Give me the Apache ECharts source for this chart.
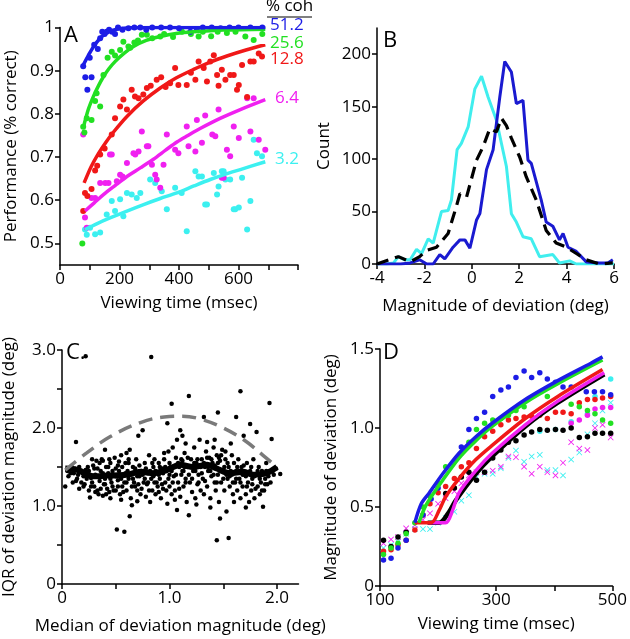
<!DOCTYPE html>
<html><head><meta charset="utf-8">
<script src="https://cdn.jsdelivr.net/npm/echarts@6/dist/echarts.min.js"></script>
<style>html,body{margin:0;padding:0;background:#fff}#c{width:630px;height:639px}</style>
</head><body><div id="c"></div>
<script>
// ---------- Panel A data (viewing time msec, performance) ----------
const cohLabels = ['51.2','25.6','12.8','6.4','3.2'];
const aBlueDots = [[78,0.91],[85,0.885],[92,0.856],[100,0.93],[106,0.885],[115,0.96],[127,0.95],[135,0.975],[142,0.99],[150,0.985],[157,0.99],[165,0.995],[175,0.99],[185,0.985],[195,1.0],[210,0.995],[230,0.998],[250,1.0],[270,1.0],[290,0.995],[310,1.0],[340,1.0],[370,1.0],[400,0.998],[438,0.99],[460,0.995],[480,1.0],[510,1.0],[540,0.998],[570,1.0],[600,1.0],[640,1.0],[680,1.0]];
const aGreenDots = [[75,0.5],[78,0.77],[82,0.757],[90,0.79],[106,0.786],[118,0.83],[123,0.848],[135,0.817],[146,0.89],[160,0.93],[174,0.944],[185,0.935],[202,0.948],[213,0.967],[230,0.956],[236,0.953],[250,0.965],[262,0.97],[275,0.983],[292,0.983],[310,0.975],[337,0.979],[350,0.985],[380,0.978],[410,0.99],[440,0.985],[466,0.979],[480,0.99],[508,0.98],[530,0.99],[561,0.987],[590,0.99],[623,0.979],[651,0.971],[680,0.985]];
const aRedDots = [[78,0.575],[84,0.617],[92,0.61],[106,0.626],[118,0.669],[125,0.68],[135,0.706],[150,0.72],[174,0.752],[185,0.79],[202,0.817],[213,0.833],[225,0.81],[241,0.856],[252,0.84],[264,0.836],[280,0.845],[292,0.86],[305,0.865],[325,0.879],[340,0.885],[355,0.862],[370,0.871],[387,0.906],[398,0.867],[426,0.867],[440,0.895],[455,0.879],[466,0.921],[483,0.906],[494,0.875],[505,0.921],[517,0.936],[528,0.89],[533,0.865],[544,0.902],[556,0.879],[572,0.89],[584,0.89],[595,0.856],[601,0.867],[612,0.913],[629,0.839],[640,0.921],[651,0.921],[668,0.94],[679,0.933]];
const aMagentaDots = [[78,0.752],[84,0.56],[90,0.536],[106,0.605],[118,0.605],[135,0.64],[152,0.64],[163,0.64],[168,0.706],[174,0.706],[191,0.644],[202,0.659],[210,0.655],[225,0.686],[247,0.709],[253,0.706],[264,0.713],[275,0.759],[292,0.725],[297,0.725],[309,0.682],[320,0.659],[325,0.648],[337,0.629],[348,0.682],[359,0.752],[387,0.717],[398,0.709],[426,0.771],[432,0.725],[455,0.713],[460,0.786],[477,0.733],[488,0.796],[512,0.752],[522,0.748],[533,0.81],[544,0.652],[550,0.652],[561,0.717],[572,0.702],[584,0.771],[601,0.744],[629,0.836],[640,0.759],[651,0.836],[668,0.74],[690,0.717]];
const aCyanDots = [[84,0.532],[90,0.52],[101,0.536],[118,0.521],[135,0.525],[157,0.567],[174,0.598],[185,0.575],[202,0.602],[213,0.563],[225,0.617],[241,0.613],[258,0.605],[270,0.617],[303,0.648],[320,0.64],[342,0.621],[359,0.579],[387,0.629],[409,0.617],[426,0.528],[455,0.667],[466,0.655],[477,0.655],[488,0.59],[494,0.59],[517,0.663],[528,0.613],[533,0.632],[544,0.667],[550,0.667],[556,0.648],[572,0.648],[584,0.579],[589,0.579],[601,0.583],[612,0.652],[629,0.532],[640,0.598],[651,0.74],[662,0.709],[679,0.702]];
const aBlueFit = [[78,0.913],[95,0.935],[112,0.955],[135,0.975],[157,0.988],[190,0.996],[225,0.999],[300,1.0],[450,1.0],[690,1.0]];
const aGreenFit = [[78,0.767],[95,0.81],[112,0.84],[130,0.866],[146,0.886],[165,0.905],[185,0.921],[215,0.94],[247,0.956],[290,0.97],[337,0.979],[390,0.986],[449,0.99],[550,0.994],[690,0.996]];
const aRedFit = [[81,0.64],[105,0.678],[129,0.708],[155,0.735],[180,0.758],[225,0.794],[280,0.83],[337,0.86],[390,0.883],[449,0.903],[505,0.92],[561,0.934],[625,0.948],[690,0.96]];
const aMagentaFit = [[84,0.575],[115,0.594],[146,0.613],[185,0.634],[225,0.655],[270,0.675],[314,0.695],[355,0.716],[393,0.735],[430,0.75],[471,0.766],[540,0.79],[606,0.81],[690,0.833]];
const aCyanFit = [[84,0.532],[125,0.546],[168,0.559],[225,0.575],[281,0.59],[337,0.604],[393,0.617],[450,0.633],[505,0.648],[555,0.66],[606,0.671],[690,0.689]];
const aYTicks = [0.5,0.6,0.7,0.8,0.9,1];
const aXTicks = [0,100,200,300,400,500,600,700,800];
const aXLabels = [0,200,400,600];

// ---------- Panel B data (deviation deg, count) ----------
const bCyan = [[-4,0],[-3.6,0],[-3.3,1],[-3.1,7],[-2.82,4],[-2.6,4],[-2.33,14],[-2.12,10],[-1.84,24],[-1.63,20],[-1.28,50],[-1.0,51],[-0.86,61],[-0.62,109],[-0.44,115],[-0.15,131],[0.13,167],[0.41,179],[0.69,159],[1.04,137],[1.46,93],[1.67,48],[1.88,40],[2.16,26],[2.51,24],[2.86,7],[3.42,9],[3.7,1],[4.13,3],[4.41,0],[6,0]];
const bBlue = [[-4,0],[-3,0],[-2.6,1],[-2.2,4],[-1.9,0],[-1.63,0],[-1.35,9],[-1.14,5],[-0.79,16],[-0.5,23],[-0.29,23],[-0.08,15],[0.2,42],[0.34,48],[0.62,90],[0.9,109],[1.18,159],[1.39,193],[1.67,183],[1.88,153],[2.16,156],[2.37,99],[2.51,96],[2.93,61],[3.14,40],[3.42,36],[3.7,23],[3.85,29],[4.06,16],[4.41,12],[4.83,2],[5.39,1],[5.74,1],[5.95,4]];
const bBlack = [[-4,0],[-3.1,7],[-2.6,2],[-2.2,7],[-1.91,13],[-1.49,16],[-1.0,29],[-0.65,55],[-0.5,67],[-0.22,64],[0.2,99],[0.48,112],[0.76,129],[1.04,126],[1.25,139],[1.46,132],[1.67,120],[2.02,102],[2.3,83],[2.72,61],[3.14,32],[3.56,20],[3.99,16],[4.41,10],[4.83,4],[5.39,0],[5.95,1]];
const bYTicks = [0,50,100,150,200];

// ---------- Panel C data (median, IQR) ----------
const cDots = [[0.05,1.45],[0.08,1.42],[0.1,1.3],[0.12,1.48],[0.14,1.35],[0.15,1.4],[0.17,1.45],[0.18,1.3],[0.2,1.38],[0.21,1.28],[0.22,1.46],[0.24,1.5],[0.25,1.2],[0.26,1.11],[0.27,1.36],[0.28,1.3],[0.29,1.52],[0.3,1.25],[0.31,1.4],[0.32,1.58],[0.33,1.2],[0.34,1.15],[0.35,1.32],[0.36,1.45],[0.37,1.6],[0.38,1.13],[0.39,1.28],[0.4,1.35],[0.41,1.5],[0.42,1.22],[0.43,1.42],[0.44,1.18],[0.45,1.55],[0.46,1.3],[0.47,1.25],[0.48,1.4],[0.49,1.62],[0.5,1.2],[0.5,1.48],[0.51,0.7],[0.52,1.33],[0.53,1.57],[0.54,1.15],[0.55,1.65],[0.56,1.25],[0.57,1.4],[0.58,0.67],[0.58,1.3],[0.59,1.55],[0.6,1.2],[0.61,1.45],[0.62,1.35],[0.63,0.87],[0.63,1.72],[0.64,1.1],[0.65,1.01],[0.66,1.5],[0.67,1.3],[0.68,1.25],[0.69,1.6],[0.7,1.2],[0.71,1.9],[0.72,1.38],[0.73,1.15],[0.74,1.45],[0.75,1.97],[0.76,1.3],[0.77,1.55],[0.78,1.12],[0.79,1.28],[0.8,1.42],[0.81,1.65],[0.82,1.05],[0.83,2.91],[0.83,1.35],[0.84,1.2],[0.85,1.5],[0.86,1.3],[0.87,1.15],[0.88,1.42],[0.89,1.25],[0.9,1.55],[0.91,1.35],[0.92,1.1],[0.93,1.48],[0.94,1.22],[0.95,1.6],[0.96,1.3],[0.97,1.45],[0.98,1.03],[0.98,2.06],[0.99,1.7],[1.0,1.25],[1.01,1.5],[1.02,2.31],[1.02,1.15],[1.03,1.75],[1.04,1.38],[1.05,1.2],[1.06,1.62],[1.07,1.85],[1.07,0.95],[1.08,1.3],[1.09,1.5],[1.1,1.97],[1.1,1.12],[1.11,1.4],[1.12,1.58],[1.13,1.25],[1.14,1.68],[1.15,1.35],[1.16,1.05],[1.17,1.5],[1.18,2.41],[1.18,0.88],[1.19,1.3],[1.2,1.6],[1.21,1.18],[1.22,1.45],[1.23,1.75],[1.24,1.1],[1.25,1.55],[1.26,1.28],[1.27,1.4],[1.28,1.85],[1.29,1.2],[1.3,1.6],[1.31,1.35],[1.32,2.14],[1.32,1.15],[1.33,1.5],[1.34,1.7],[1.35,1.25],[1.36,1.45],[1.37,1.62],[1.38,1.1],[1.39,1.38],[1.4,1.55],[1.41,1.75],[1.42,1.3],[1.43,1.2],[1.44,1.65],[1.44,0.56],[1.45,2.2],[1.45,1.4],[1.46,1.05],[1.47,0.84],[1.47,1.58],[1.48,1.3],[1.49,1.72],[1.5,1.45],[1.51,1.2],[1.52,1.6],[1.53,0.93],[1.54,1.35],[1.55,0.59],[1.55,1.5],[1.56,1.25],[1.57,1.8],[1.58,1.4],[1.59,1.15],[1.6,1.55],[1.61,1.3],[1.62,2.14],[1.62,1.45],[1.63,1.2],[1.64,1.6],[1.65,1.35],[1.66,2.47],[1.66,1.1],[1.67,1.5],[1.68,1.25],[1.69,1.9],[1.7,1.4],[1.71,0.98],[1.71,1.15],[1.72,1.55],[1.73,1.3],[1.74,1.05],[1.75,2.05],[1.75,1.45],[1.76,1.2],[1.77,1.35],[1.78,1.6],[1.79,1.1],[1.8,1.4],[1.81,1.95],[1.82,1.25],[1.83,1.5],[1.84,1.15],[1.85,1.3],[1.86,1.45],[1.87,0.99],[1.88,1.2],[1.89,1.35],[1.9,1.55],[1.91,1.28],[1.93,2.32],[1.95,1.86],[1.96,1.45],[2.03,1.41],[0.03,1.25],[0.13,1.82],[0.22,2.92],[0.4,1.72],[0.6,1.68],[0.95,1.68],[1.15,1.8],[1.35,1.82],[1.42,1.85],[1.12,1.9],[0.38,1.58],[0.28,1.6],[0.55,1.08],[0.7,1.06],[1.25,1.02],[1.38,0.98],[1.6,1.05],[0.45,1.1],[0.9,1.18],[1.05,1.08],[0.16,1.22],[0.33,1.48],[0.52,1.52],[0.67,1.42],[0.86,1.6],[1.0,1.4],[1.13,1.45],[1.28,1.52],[1.46,1.62],[1.52,1.7],[1.58,1.65],[1.68,1.42],[1.85,1.4],[0.44,1.6],[0.62,1.55]];
const cDotsBand = [[0.06,1.38],[0.09,1.5],[0.11,1.42],[0.13,1.32],[0.16,1.5],[0.19,1.42],[0.2,1.25],[0.23,1.35],[0.25,1.45],[0.27,1.25],[0.3,1.48],[0.31,1.18],[0.33,1.38],[0.35,1.55],[0.36,1.22],[0.38,1.42],[0.4,1.28],[0.41,1.15],[0.43,1.5],[0.45,1.35],[0.47,1.45],[0.48,1.2],[0.5,1.38],[0.52,1.25],[0.53,1.45],[0.55,1.35],[0.56,1.5],[0.57,1.18],[0.59,1.42],[0.6,1.3],[0.62,1.6],[0.64,1.4],[0.65,1.25],[0.66,1.35],[0.68,1.48],[0.7,1.38],[0.71,1.28],[0.72,1.52],[0.74,1.22],[0.75,1.4],[0.77,1.35],[0.78,1.48],[0.8,1.3],[0.81,1.2],[0.82,1.45],[0.84,1.55],[0.85,1.38],[0.87,1.45],[0.88,1.3],[0.9,1.4],[0.91,1.5],[0.93,1.28],[0.94,1.42],[0.96,1.5],[0.97,1.2],[0.99,1.35],[1.0,1.55],[1.02,1.45],[1.03,1.3],[1.05,1.5],[1.06,1.4],[1.08,1.55],[1.09,1.22],[1.11,1.6],[1.12,1.45],[1.14,1.5],[1.15,1.3],[1.17,1.62],[1.18,1.4],[1.2,1.5],[1.21,1.35],[1.23,1.55],[1.24,1.45],[1.26,1.6],[1.27,1.3],[1.29,1.5],[1.3,1.42],[1.32,1.55],[1.33,1.32],[1.35,1.62],[1.36,1.5],[1.38,1.45],[1.39,1.6],[1.41,1.4],[1.42,1.52],[1.44,1.3],[1.45,1.55],[1.47,1.45],[1.48,1.65],[1.5,1.35],[1.51,1.5],[1.53,1.4],[1.54,1.55],[1.56,1.38],[1.57,1.45],[1.59,1.3],[1.6,1.42],[1.62,1.35],[1.63,1.5],[1.65,1.45],[1.66,1.3],[1.68,1.4],[1.69,1.52],[1.71,1.38],[1.72,1.25],[1.74,1.42],[1.76,1.5],[1.77,1.28],[1.79,1.38],[1.8,1.22],[1.82,1.45],[1.84,1.35],[1.86,1.2],[1.87,1.42],[1.89,1.28],[1.9,1.45],[1.92,1.38],[1.94,1.3],[1.97,1.4],[1.99,1.48]];
const cRunning = [[0.03,1.48],[0.15,1.46],[0.29,1.38],[0.42,1.39],[0.6,1.4],[0.73,1.44],[0.85,1.42],[0.97,1.46],[1.1,1.53],[1.22,1.5],[1.35,1.53],[1.44,1.48],[1.56,1.42],[1.69,1.44],[1.78,1.4],[1.9,1.42],[2.0,1.5]];
const cDashed = [[0.03,1.46],[0.23,1.68],[0.45,1.89],[0.73,2.07],[0.95,2.14],[1.12,2.15],[1.3,2.11],[1.5,2.0],[1.7,1.84],[1.87,1.65],[2.0,1.5]];
const cYTicks = [0,0.5,1,1.5,2,2.5,3];
const cYLabels = [0,1,2,3];
const cXTicks = [0,0.5,1,1.5,2];
const cXLabels = [0,1,2];

// ---------- Panel D data (viewing time msec, magnitude deg) ----------
const dBlueFit = [[160,0.40],[171,0.52],[185,0.59],[208,0.71],[236,0.84],[265,0.945],[293,1.03],[350,1.18],[406,1.30],[463,1.41],[483,1.45]];
const dGreenFit = [[167,0.40],[179,0.51],[208,0.67],[236,0.81],[265,0.92],[293,1.01],[350,1.16],[406,1.28],[483,1.43]];
const dRedFit = [[160,0.40],[188,0.40],[202,0.48],[213,0.565],[236,0.68],[265,0.80],[293,0.89],[350,1.06],[406,1.20],[483,1.37]];
const dMagentaFit = [[182,0.40],[213,0.40],[225,0.48],[236,0.59],[265,0.73],[293,0.84],[350,1.02],[406,1.17],[486,1.35]];
const dBlackFit = [[182,0.40],[202,0.40],[219,0.47],[230,0.54],[265,0.71],[293,0.82],[350,1.01],[406,1.16],[486,1.34]];
const dBlueDots = [[106,0.165],[119,0.175],[131,0.24],[145,0.29],[174,0.45],[188,0.55],[200,0.62],[240,0.88],[253,0.99],[266,1.06],[280,1.10],[294,1.20],[308,1.24],[321,1.26],[334,1.32],[348,1.36],[361,1.32],[375,1.35],[388,1.31],[402,1.29],[415,1.26],[429,1.26],[455,1.23],[469,1.23],[483,1.23],[497,1.21]];
const dGreenDots = [[106,0.20],[119,0.24],[131,0.27],[145,0.33],[160,0.40],[174,0.50],[186,0.57],[200,0.65],[213,0.755],[240,0.84],[253,0.91],[266,0.99],[280,1.03],[294,1.05],[308,1.06],[321,1.08],[334,1.11],[348,1.135],[388,1.20],[429,1.15],[443,1.135],[457,1.11],[470,1.09],[483,1.05],[497,1.03]];
const dRedDots = [[106,0.22],[119,0.23],[131,0.26],[145,0.29],[160,0.355],[174,0.45],[186,0.52],[200,0.59],[213,0.63],[228,0.68],[240,0.755],[253,0.78],[266,0.87],[280,0.945],[294,0.98],[308,1.02],[321,1.05],[334,1.06],[348,1.07],[361,1.075],[375,1.08],[388,1.06],[402,1.10],[415,1.10],[429,1.09],[443,1.16],[457,1.18],[470,1.18],[483,1.19],[497,1.20]];
const dBlackDots = [[106,0.29],[119,0.25],[131,0.31],[145,0.34],[213,0.585],[228,0.62],[240,0.69],[253,0.72],[266,0.67],[280,0.72],[294,0.81],[308,0.86],[321,0.91],[334,0.92],[348,0.955],[361,0.975],[375,0.99],[388,0.985],[402,0.99],[415,0.985],[429,1.0],[443,0.94],[457,0.945],[470,0.966],[483,0.966],[497,0.966]];
const dMagentaX = [[106,0.27],[119,0.295],[131,0.31],[145,0.365],[160,0.385],[174,0.42],[186,0.46],[200,0.52],[213,0.555],[228,0.6],[240,0.65],[253,0.70],[266,0.72],[280,0.72],[294,0.73],[308,0.755],[321,0.82],[334,0.815],[348,0.755],[361,0.71],[375,0.755],[388,0.72],[402,0.70],[415,0.78],[429,0.91],[443,0.87],[457,0.86],[470,1.0],[483,1.02],[497,0.94]];
const dMagentaDots = [[429,1.03],[443,1.05],[457,1.08],[470,1.12],[483,1.13],[497,1.13]];
const dCyanX = [[106,0.24],[119,0.26],[131,0.28],[145,0.33],[160,0.36],[174,0.36],[186,0.36],[200,0.40],[213,0.43],[228,0.47],[240,0.54],[253,0.575],[266,0.69],[280,0.71],[294,0.71],[308,0.745],[321,0.81],[334,0.857],[348,0.787],[361,0.82],[375,0.83],[388,0.734],[402,0.734],[415,0.70],[429,0.80],[443,0.845],[457,0.96],[470,1.03],[483,1.11],[497,1.16]];
const dCyanDots = [[375,0.98],[402,0.99],[429,1.04],[457,1.09],[470,1.2],[497,1.31]];
const dXTicks = [100,200,300,400,500];
const dXLabels = [100,300,500];
const dYTicks = [0,0.5,1,1.5];

// ---------- styling ----------
const FONT = "'Open Sans', 'Liberation Sans', sans-serif";
const C_BLUE = '#1c1ce6', C_GREEN = '#22e022', C_RED = '#f01818', C_MAG = '#f020f0', C_CYAN = '#3cf0f0';
const B_BLUE = '#1a1ad0', B_CYAN = '#40eeee';
const XSYM = 'path://M0,1L1,0L5,4L9,0L10,1L6,5L10,9L9,10L5,6L1,10L0,9L4,5Z';

function axis(gridIndex, o) {
  return Object.assign({
    gridIndex, type: 'value',
    axisLine: {show: true, onZero: false, lineStyle: {color: '#000', width: 1.5}},
    axisTick: {show: true, inside: false, length: 5, lineStyle: {color: '#000', width: 1.5}},
    axisLabel: {color: '#000', fontSize: 17, fontFamily: FONT, margin: 6},
    splitLine: {show: false},
    nameLocation: 'middle',
    nameTextStyle: {color: '#000', fontSize: 17, fontFamily: FONT}
  }, o);
}
function dec1(v){ return v === 0 ? '0' : v.toFixed(1); }

function scat(xi, data, color, size, sym) {
  return {type: 'scatter', xAxisIndex: xi, yAxisIndex: xi, data, symbol: sym || 'circle', symbolSize: size,
    itemStyle: {color, opacity: 1}, silent: true, z: 2};
}
function line(xi, data, color, width, extra) {
  return Object.assign({type: 'line', xAxisIndex: xi, yAxisIndex: xi, data, showSymbol: false, symbol: 'none',
    lineStyle: {color, width}, silent: true, z: 3}, extra || {});
}

const option = {
  animation: false,
  backgroundColor: '#fff',
  grid: [
    {left: 60, top: 27.5, width: 238, height: 237.5},
    {left: 377, top: 28, width: 237, height: 236},
    {left: 62, top: 350, width: 236.5, height: 234},
    {left: 380, top: 349, width: 235, height: 237}
  ],
  xAxis: [
    axis(0, {min: 0, max: 800, name: 'Viewing time (msec)', nameGap: 30,
      axisTick: {show: true, length: 5, lineStyle: {color: '#000', width: 1.5}, customValues: aXTicks},
      axisLabel: {color: '#000', fontSize: 17, fontFamily: FONT, margin: 6, customValues: aXLabels}}),
    axis(1, {min: -4, max: 6, interval: 2, name: 'Magnitude of deviation (deg)', nameGap: 34}),
    axis(2, {min: 0, max: 2.2, name: 'Median of deviation magnitude (deg)', nameGap: 34,
      axisTick: {show: true, length: 5, lineStyle: {color: '#000', width: 1.5}, customValues: cXTicks},
      axisLabel: {color: '#000', fontSize: 17, fontFamily: FONT, margin: 6, customValues: cXLabels, formatter: dec1}}),
    axis(3, {min: 100, max: 500, name: 'Viewing time (msec)', nameGap: 30,
      axisTick: {show: true, length: 5, lineStyle: {color: '#000', width: 1.5}, customValues: dXTicks},
      axisLabel: {color: '#000', fontSize: 17, fontFamily: FONT, margin: 6, customValues: dXLabels}})
  ],
  yAxis: [
    axis(0, {min: 0.45, max: 1, name: 'Performance (% correct)', nameGap: 40,
      axisTick: {show: true, length: 5, lineStyle: {color: '#000', width: 1.5}, customValues: aYTicks},
      axisLabel: {color: '#000', fontSize: 17, fontFamily: FONT, margin: 6, customValues: aYTicks,
        formatter: v => v === 1 ? '1' : v.toFixed(1)}}),
    axis(1, {min: 0, max: 225, name: 'Count', nameGap: 44,
      axisTick: {show: true, length: 5, lineStyle: {color: '#000', width: 1.5}, customValues: bYTicks},
      axisLabel: {color: '#000', fontSize: 17, fontFamily: FONT, margin: 6, customValues: bYTicks}}),
    axis(2, {min: 0, max: 3, name: 'IQR of deviation magnitude (deg)', nameGap: 44,
      axisTick: {show: true, length: 5, lineStyle: {color: '#000', width: 1.5}, customValues: cYTicks},
      axisLabel: {color: '#000', fontSize: 17, fontFamily: FONT, margin: 6, customValues: cYLabels, formatter: dec1}}),
    axis(3, {min: 0, max: 1.5, name: 'Magnitude of deviation (deg)', nameGap: 40,
      axisTick: {show: true, length: 5, lineStyle: {color: '#000', width: 1.5}, customValues: dYTicks},
      axisLabel: {color: '#000', fontSize: 17, fontFamily: FONT, margin: 6, customValues: dYTicks, formatter: dec1}})
  ],
  series: [
    // Panel A
    scat(0, aCyanDots, C_CYAN, 6), scat(0, aMagentaDots, C_MAG, 6), scat(0, aRedDots, C_RED, 6),
    scat(0, aGreenDots, C_GREEN, 6), scat(0, aBlueDots, C_BLUE, 6),
    line(0, aCyanFit, C_CYAN, 3.5, {smooth: 0.3}), line(0, aMagentaFit, C_MAG, 3.5, {smooth: 0.3}),
    line(0, aRedFit, C_RED, 3.5, {smooth: 0.3}), line(0, aGreenFit, C_GREEN, 3.5, {smooth: 0.3}),
    line(0, aBlueFit, C_BLUE, 3.5, {smooth: 0.3}),
    // Panel B
    line(1, bCyan, B_CYAN, 3), line(1, bBlue, B_BLUE, 3),
    line(1, bBlack, '#000', 3, {lineStyle: {color: '#000', width: 3.2, type: [12, 7]}}),
    // Panel C
    scat(2, cDots, '#000', 4.5), scat(2, cDotsBand, '#000', 4.5),
    line(2, cRunning, '#000', 6, {smooth: 0.3}),
    line(2, cDashed, '#7a7a7a', 3.5, {smooth: 0.4, lineStyle: {color: '#7a7a7a', width: 3.5, type: [14, 8]}}),
    // Panel D
    scat(3, dCyanX, C_CYAN, 6, XSYM), scat(3, dMagentaX, C_MAG, 6, XSYM),
    scat(3, dCyanDots, C_CYAN, 5.5), scat(3, dMagentaDots, C_MAG, 5.5),
    scat(3, dBlackDots, '#000', 5.5), scat(3, dRedDots, C_RED, 5.5),
    scat(3, dGreenDots, C_GREEN, 5.5), scat(3, dBlueDots, C_BLUE, 5.5),
    line(3, dBlackFit, '#000', 4.5, {smooth: 0.3}), line(3, dMagentaFit, C_MAG, 3.5, {smooth: 0.3}),
    line(3, dRedFit, C_RED, 3.5, {smooth: 0.3}), line(3, dGreenFit, C_GREEN, 3.5, {smooth: 0.3}),
    line(3, dBlueFit, C_BLUE, 3.5, {smooth: 0.3})
  ],
  graphic: [
    {type: 'text', left: 64, top: 25, style: {text: 'A', fontSize: 22, fontFamily: FONT, fill: '#000'}},
    {type: 'text', left: 383, top: 30, style: {text: 'B', fontSize: 22, fontFamily: FONT, fill: '#000'}},
    {type: 'text', left: 66, top: 342, style: {text: 'C.', fontSize: 22, fontFamily: FONT, fill: '#000'}},
    {type: 'text', left: 383, top: 342, style: {text: 'D', fontSize: 22, fontFamily: FONT, fill: '#000'}},
    {type: 'text', left: 266, top: -2, style: {text: '% coh', fontSize: 17, fontFamily: FONT, fill: '#000'}},
    {type: 'line', shape: {x1: 267, y1: 17, x2: 312, y2: 17}, style: {stroke: '#000', lineWidth: 1.2}},
    {type: 'text', left: 270, top: 17, style: {text: cohLabels[0], fontSize: 17, fontFamily: FONT, fill: C_BLUE}},
    {type: 'text', left: 270, top: 35, style: {text: cohLabels[1], fontSize: 17, fontFamily: FONT, fill: C_GREEN}},
    {type: 'text', left: 270, top: 51, style: {text: cohLabels[2], fontSize: 17, fontFamily: FONT, fill: C_RED}},
    {type: 'text', left: 275, top: 90, style: {text: cohLabels[3], fontSize: 17, fontFamily: FONT, fill: C_MAG}},
    {type: 'text', left: 275, top: 151, style: {text: cohLabels[4], fontSize: 17, fontFamily: FONT, fill: C_CYAN}}
  ]
};
const chart = echarts.init(document.getElementById('c'), null, {renderer: 'canvas'});
chart.setOption(option);
</script></body></html>
